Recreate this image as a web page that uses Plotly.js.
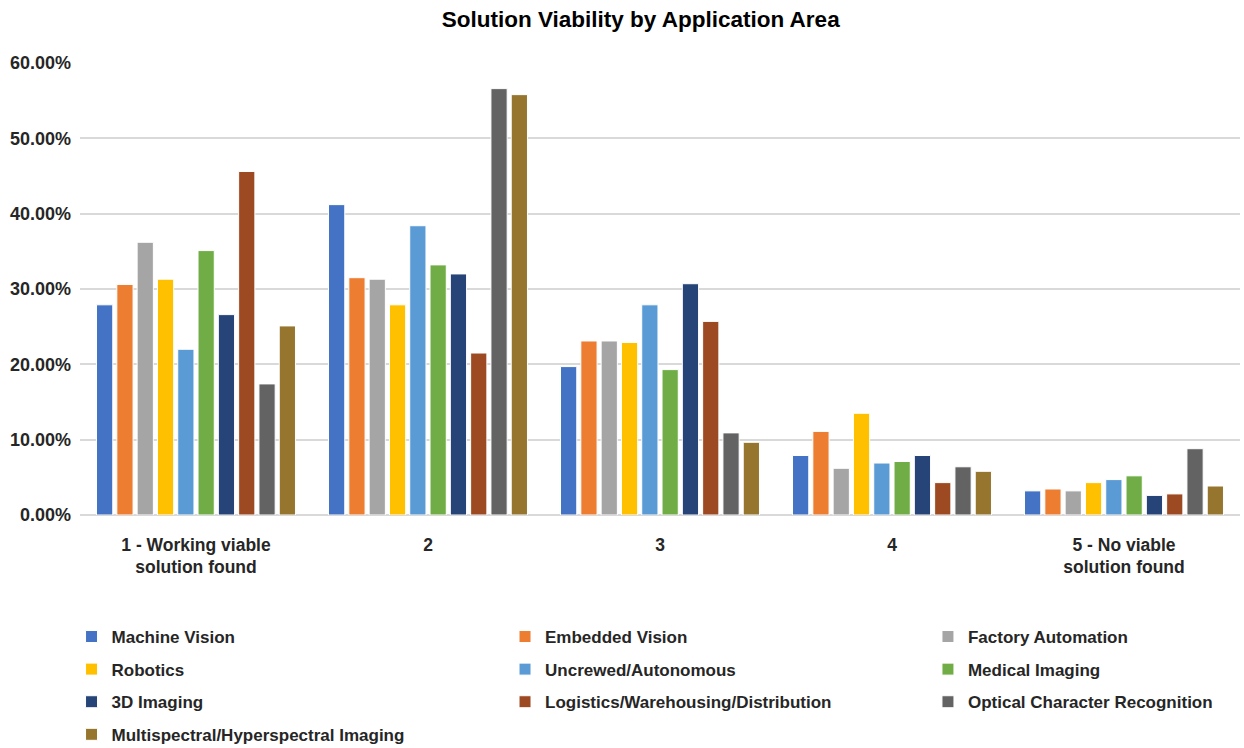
<!DOCTYPE html>
<html>
<head>
<meta charset="utf-8">
<script src="https://cdn.plot.ly/plotly-3.0.1.min.js"></script>
<style>
  html, body { margin: 0; padding: 0; background: #ffffff; }
  #chart { width: 1244px; height: 748px; }
</style>
</head>
<body>
<div id="chart"></div>
<script>
// Rating categories along the x axis
const categories = [
  "1 - Working viable<br>solution found",
  "2",
  "3",
  "4",
  "5 - No viable<br>solution found"
];

// Share of respondents per application area (fractions)
const machineVision      = [0.279, 0.412, 0.197, 0.079, 0.032];
const embeddedVision     = [0.306, 0.315, 0.231, 0.111, 0.0345];
const factoryAutomation  = [0.362, 0.313, 0.231, 0.062, 0.032];
const robotics           = [0.313, 0.279, 0.229, 0.135, 0.043];
const uncrewed           = [0.220, 0.384, 0.279, 0.069, 0.047];
const medicalImaging     = [0.351, 0.332, 0.193, 0.071, 0.052];
const imaging3D          = [0.266, 0.320, 0.307, 0.079, 0.026];
const logistics          = [0.456, 0.215, 0.257, 0.043, 0.028];
const ocr                = [0.174, 0.566, 0.109, 0.064, 0.088];
const multispectral      = [0.251, 0.558, 0.0965, 0.058, 0.0385];

const seriesNames = [
  "Machine Vision", "Embedded Vision", "Factory Automation",
  "Robotics", "Uncrewed/Autonomous", "Medical Imaging",
  "3D Imaging", "Logistics/Warehousing/Distribution", "Optical Character Recognition",
  "Multispectral/Hyperspectral Imaging"
];
const seriesValues = [
  machineVision, embeddedVision, factoryAutomation,
  robotics, uncrewed, medicalImaging,
  imaging3D, logistics, ocr, multispectral
];
const seriesColors = [
  "#4472C4", "#ED7D31", "#A5A5A5",
  "#FFC000", "#5B9BD5", "#70AD47",
  "#264478", "#9D4A22", "#636363",
  "#96762E"
];

// The key is laid out as three columns, filled row by row
const legendIds = ["legend", "legend2", "legend3"];

const FONT = "'Liberation Sans', Arial, sans-serif";
const TEXT = "#262626";

const traces = seriesNames.map((name, i) => ({
  type: "bar",
  name: name,
  x: categories,
  y: seriesValues[i],
  legend: legendIds[i % 3],
  legendgroup: "g" + i,
  marker: { color: seriesColors[i], line: { color: "#ffffff", width: 1 } },
  hovertemplate: "%{y:.2%}<extra>" + name + "</extra>"
}));

// One key column, placed relative to the whole figure so it does not resize the plot
function keyColumn(x) {
  return {
    orientation: "v",
    xref: "paper",
    x: x, xanchor: "left",
    yref: "container",
    y: 0.1725, yanchor: "top",
    tracegroupgap: 7.5,
    traceorder: "grouped",
    bgcolor: "rgba(0,0,0,0)",
    font: { family: FONT, size: 17, color: TEXT, weight: "bold" },
    itemclick: false,
    itemdoubleclick: false
  };
}

const layout = {
  width: 1244,
  height: 748,
  paper_bgcolor: "#ffffff",
  plot_bgcolor: "#ffffff",
  margin: { l: 80, r: 4, t: 63, b: 233, autoexpand: false },
  barmode: "group",
  bargap: 0.125,
  bargroupgap: 0.2,
  title: {
    text: "<b>Solution Viability by Application Area</b>",
    font: { family: FONT, size: 22.5, color: "#000000" },
    x: 0.515, xanchor: "center",
    y: 0.975, yanchor: "middle"
  },
  font: { family: FONT, color: TEXT },
  xaxis: {
    type: "category",
    tickfont: { family: FONT, size: 17.5, color: TEXT, weight: "bold" },
    showgrid: false,
    showline: false,
    zeroline: false,
    ticks: "",
    ticklabelstandoff: 17
  },
  yaxis: {
    range: [0, 0.6],
    dtick: 0.1,
    tickformat: ".2%",
    tickfont: { family: FONT, size: 18, color: TEXT, weight: "bold" },
    gridcolor: "#d9d9d9",
    gridwidth: 1.5,
    zeroline: true,
    zerolinecolor: "#d9d9d9",
    zerolinewidth: 1.5,
    showline: false,
    ticks: "",
    ticklabelstandoff: 8
  },
  showlegend: true,
  legend: keyColumn(-0.0073),
  legend2: keyColumn(0.3664),
  legend3: keyColumn(0.7310)
};

Plotly.newPlot("chart", traces, layout, { displayModeBar: false, responsive: false });
</script>
</body>
</html>
